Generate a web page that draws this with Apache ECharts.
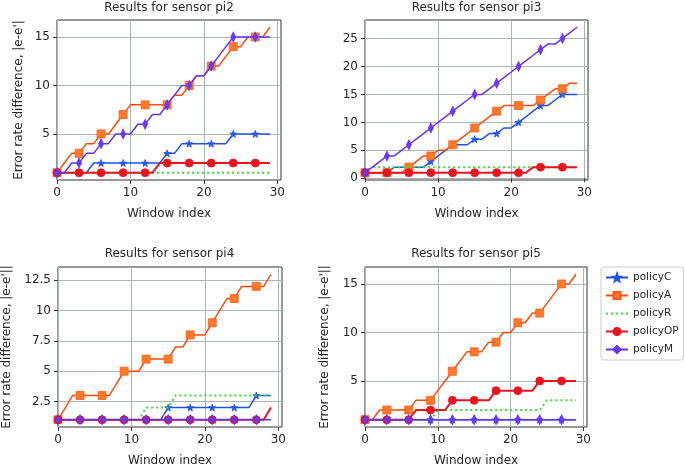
<!DOCTYPE html>
<html><head><meta charset="utf-8">
<script src="https://cdn.jsdelivr.net/npm/echarts@6/dist/echarts.min.js"></script>
<style>html,body{margin:0;padding:0;background:#fff}#c{width:685px;height:468px}</style>
</head><body><div id="c"></div><script>
// ---- data ----
const windowIdx = [0,1,2,3,4,5,6,7,8,9,10,11,12,13,14,15,16,17,18,19,20,21,22,23,24,25,26,27,28,29];
const policyNames = ['policyC','policyA','policyR','policyOP','policyM'];
const sensorTitles = ['Results for sensor pi2','Results for sensor pi3','Results for sensor pi4','Results for sensor pi5'];
const xTicks = [0,10,20,30];
const yTicksPi2 = [5,10,15];
const yTicksPi3 = [0,5,10,15,20,25];
const yTicksPi4 = [2.5,5,7.5,10,12.5];
const yTicksPi5 = [5,10,15];

// pi2
const pi2C  = [1,1,1,1,1,2,2,2,2,2,2,2,2,2,2,3,3,4,4,4,4,4,4,4,5,5,5,5,5,5];
const pi2A  = [1,2,3,3,4,4,5,5,6,7,8,8,8,8,8,8,9,9,10,11,11,12,12,13,14,14,15,15,15,16];
const pi2R  = [1,1,1,1,1,1,1,1,1,1,1,1,1,1,1,1,1,1,1,1,1,1,1,1,1,1,1,1,1,1];
const pi2OP = [1,1,1,1,1,1,1,1,1,1,1,1,1,1,2,2,2,2,2,2,2,2,2,2,2,2,2,2,2,2];
const pi2M  = [1,1,2,2,3,3,4,4,5,5,5,6,6,7,7,8,9,10,10,11,11,12,13,14,15,15,15,15,15,15];
// pi3
const pi3C  = [1,1,1,1,2,2,2,2,2,3,4,5,6,6,6,7,7,8,8,9,9,10,11,12,13,13,14,15,15,15];
const pi3A  = [1,1,1,1,1,1,2,3,4,4,5,5,6,7,8,9,10,11,12,13,13,13,13,13,14,15,16,16,17,17];
const pi3R  = [1,2,2,2,2,2,2,2,2,2,2,2,2,2,2,2,2,2,2,2,2,2,2,2,2,2,2,2,2,2];
const pi3OP = [1,1,1,1,1,1,1,1,1,1,1,1,1,1,1,1,1,1,1,1,1,1,1,2,2,2,2,2,2,2];
const pi3M  = [1,2,3,4,4,5,6,7,8,9,10,11,12,13,14,15,15,16,17,18,19,20,21,22,23,24,24,25,26,27];
// pi4
const pi4C  = [1,1,1,1,1,1,1,1,1,1,1,1,1,1,1,2,2,2,2,2,2,2,2,2,2,2,2,3,3,3];
const pi4A  = [1,2,3,3,3,3,3,3,4,5,5,5,6,6,6,6,7,7,8,8,8,9,10,11,11,12,12,12,12,13];
const pi4R  = [1,1,1,1,1,1,1,1,1,1,1,1,2,2,2,2,3,3,3,3,3,3,3,3,3,3,3,3,3,3];
const pi4OP = [1,1,1,1,1,1,1,1,1,1,1,1,1,1,1,1,1,1,1,1,1,1,1,1,1,1,1,1,1,2];
const pi4M  = [1,1,1,1,1,1,1,1,1,1,1,1,1,1,1,1,1,1,1,1,1,1,1,1,1,1,1,1,1,1];
// pi5
const pi5C  = [1,1,1,1,1,1,1,1,1,1,1,1,1,1,1,1,1,1,1,1,1,1,1,1,1,1,1,1,1,1];
const pi5A  = [1,1,2,2,2,2,2,3,3,3,4,5,6,7,8,8,8,9,9,10,10,11,11,12,12,13,14,15,15,16];
const pi5R  = [1,1,1,1,1,1,1,1,1,1,2,2,2,2,2,2,2,2,2,2,2,2,2,2,2,3,3,3,3,3];
const pi5OP = [1,1,1,1,1,1,1,2,2,2,2,2,3,3,3,3,3,3,4,4,4,4,4,4,5,5,5,5,5,5];
const pi5M  = [1,1,1,1,1,1,1,1,1,1,1,1,1,1,1,1,1,1,1,1,1,1,1,1,1,1,1,1,1,1];

const panels = [
  {title: sensorTitles[0], yMin: 0.25, yMax: 16.75, yTicks: yTicksPi2, yName: "Error rate difference, |e-e'|",  series: [pi2C,pi2A,pi2R,pi2OP,pi2M]},
  {title: sensorTitles[1], yMin: -0.3, yMax: 28.3,  yTicks: yTicksPi3, yName: "",                               series: [pi3C,pi3A,pi3R,pi3OP,pi3M]},
  {title: sensorTitles[2], yMin: 0.4,  yMax: 13.6,  yTicks: yTicksPi4, yName: "Error rate difference, |e-e'||", series: [pi4C,pi4A,pi4R,pi4OP,pi4M]},
  {title: sensorTitles[3], yMin: 0.25, yMax: 16.75, yTicks: yTicksPi5, yName: "Error rate difference, |e-e'||", series: [pi5C,pi5A,pi5R,pi5OP,pi5M]}
];

// ---- layout & styles ----
const FONT = 'DejaVu Sans';
const TXT = '#262626';
const grids = [
  {left: 57,  top: 20,  width: 224, height: 160},
  {left: 365, top: 20,  width: 223, height: 160},
  {left: 57,  top: 267, width: 225, height: 160},
  {left: 365, top: 267, width: 222, height: 160}
];
const nameGaps = [32, 0, 45, 34];
const titlePos = [{x:169,y:2},{x:476.5,y:2},{x:169.5,y:248},{x:476,y:248}];
const starPath = 'path://M0,-10L2.35,-3.24L9.51,-3.09L3.8,1.24L5.88,8.09L0,4L-5.88,8.09L-3.8,1.24L-9.51,-3.09L-2.35,-3.24Z';
const styles = [
  {line:'#1f50ea', fill:'#2a5cf0', border:'#1f50ea', symbol: starPath, size: 7, width: 1.5, type: 'solid'},
  {line:'#ff4a0a', fill:'#ff7a2a', border:'#ff5a1a', symbol: 'rect', size: 8, width: 1.5, type: 'solid'},
  {line:'#33e033', fill:'#33e033', border:'#33e033', symbol: 'none', size: 0, width: 2, type: [2,3]},
  {line:'#e8141e', fill:'#e8141e', border:'#e8141e', symbol: 'circle', size: 8, width: 2, type: 'solid'},
  {line:'#6434f2', fill:'#6a3af5', border:'#6434f2', symbol: 'diamond', size: [5,10], width: 1.5, type: 'solid'}
];

const legendData = policyNames.map((n, i) => styles[i].symbol === 'none'
  ? {name: n, itemStyle: {color: 'rgba(0,0,0,0)', borderWidth: 0, opacity: 0}}
  : {name: n});

const option = {
  animation: false,
  backgroundColor: '#fff',
  textStyle: {fontFamily: FONT},
  title: panels.map((p, i) => ({
    text: p.title, left: titlePos[i].x, top: titlePos[i].y, textAlign: 'center', padding: 0,
    textStyle: {fontSize: 12, fontWeight: 'normal', fontFamily: FONT, color: TXT}
  })),
  legend: {
    data: legendData, orient: 'vertical', left: 601, top: 267,
    itemWidth: 22, itemHeight: 9, itemGap: 7, padding: [5, 5, 5, 4],
    backgroundColor: '#fff', borderColor: '#cccccc', borderWidth: 1, borderRadius: 3,
    textStyle: {fontSize: 10.5, fontFamily: FONT, color: TXT}
  },
  grid: grids.map(g => Object.assign({show: true, borderColor: '#333333', borderWidth: 1, backgroundColor: 'transparent'}, g)),
  xAxis: panels.map((p, i) => ({
    type: 'value', gridIndex: i, min: 0, max: 30.5,
    name: 'Window index', nameLocation: 'middle', nameGap: 28,
    nameTextStyle: {fontSize: 12, fontFamily: FONT, color: TXT},
    axisLine: {show: false},
    axisTick: {show: true, length: 4, lineStyle: {color: '#333'}, customValues: xTicks},
    axisLabel: {fontSize: 12, fontFamily: FONT, color: TXT, margin: 7, customValues: xTicks},
    splitLine: {show: true, lineStyle: {color: '#a9b5b5', width: 1}}
  })),
  yAxis: panels.map((p, i) => ({
    type: 'value', gridIndex: i, min: p.yMin, max: p.yMax,
    name: p.yName, nameLocation: 'middle', nameGap: nameGaps[i], nameRotate: 90,
    nameTextStyle: {fontSize: 12, fontFamily: FONT, color: TXT},
    axisLine: {show: false},
    axisTick: {show: true, length: 4, lineStyle: {color: '#333'}, customValues: p.yTicks},
    axisLabel: {fontSize: 12, fontFamily: FONT, color: TXT, margin: 7, customValues: p.yTicks},
    splitLine: {show: true, lineStyle: {color: '#a9b5b5', width: 1}}
  })),
  series: []
};

panels.forEach((p, gi) => {
  p.series.forEach((ys, si) => {
    const st = styles[si];
    option.series.push({
      type: 'line', name: policyNames[si], xAxisIndex: gi, yAxisIndex: gi,
      symbol: st.symbol, symbolSize: st.size, showSymbol: st.symbol !== 'none',
      z: 2 + si,
      lineStyle: {color: st.line, width: st.width, type: st.type},
      itemStyle: {color: st.fill, borderColor: st.border, borderWidth: 0.8},
      emphasis: {disabled: true},
      data: ys.map((y, i) => i % 3 === 0 ? [windowIdx[i], y] : {value: [windowIdx[i], y], symbol: 'none'})
    });
  });
});

const chart = echarts.init(document.getElementById('c'), null, {renderer: 'canvas'});
chart.setOption(option);
</script></body></html>
